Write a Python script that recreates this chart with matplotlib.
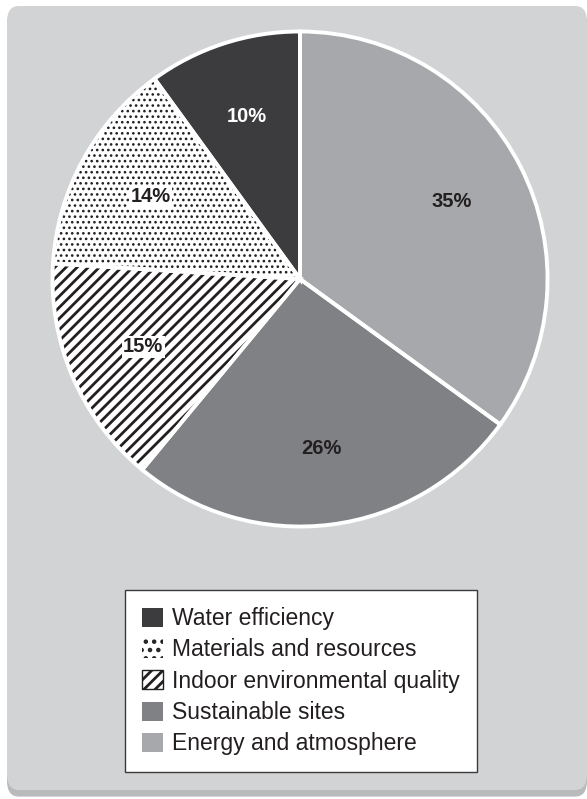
import matplotlib
matplotlib.use('Agg')
import matplotlib.pyplot as plt
from matplotlib.patches import Patch, FancyBboxPatch

plt.rcParams['font.family'] = ['Liberation Sans', 'DejaVu Sans']
plt.rcParams['hatch.linewidth'] = 2.0

# data, clockwise from 12 o'clock
categories = ['Energy and atmosphere', 'Sustainable sites', 'Indoor environmental quality',
              'Materials and resources', 'Water efficiency']
shares = [35, 26, 15, 14, 10]
colors = ['#a7a8ab', '#808185', 'white', 'white', '#3c3c3e']
hatches = [None, None, '///', '...', None]
label_colors = ['#231f20', '#231f20', '#231f20', '#231f20', 'white']
legend_order = [4, 3, 2, 1, 0]

fig = plt.figure(figsize=(5.87, 7.99), dpi=100)

# grey panel with a little shadow at the bottom
shadow = FancyBboxPatch((7 / 587, 0.003), 580 / 587, 788 / 799,
                        boxstyle='round,pad=0,rounding_size=0.02',
                        transform=fig.transFigure, facecolor='#b9babc',
                        edgecolor='none', zorder=-3)
panel = FancyBboxPatch((7 / 587, 9 / 799), 580 / 587, 784 / 799,
                       boxstyle='round,pad=0,rounding_size=0.02',
                       transform=fig.transFigure, facecolor='#d2d3d5',
                       edgecolor='none', zorder=-2)
fig.patches.extend([shadow, panel])

ax = fig.add_axes([50 / 587, 270 / 799, 500 / 587, 500 / 799])

# first pass: fills and hatches (hatch colour follows edgecolor)
wedges, texts, autotexts = ax.pie(
    shares, colors=colors, startangle=90, counterclock=False,
    autopct='%d%%', pctdistance=0.69,
    wedgeprops=dict(edgecolor='#231f20', linewidth=0),
    textprops=dict(fontsize=14.5, fontweight='bold'))
for w, h in zip(wedges, hatches):
    if h:
        w.set_hatch(h)
        if h.startswith('.') and hasattr(w, 'set_hatch_linewidth'):
            w.set_hatch_linewidth(1.1)
for t, c, h in zip(autotexts, label_colors, hatches):
    t.set_color(c)
    if h:
        t.set_bbox(dict(facecolor='white', edgecolor='none', pad=1.0))

# second pass: white separators and outline
ax.pie(shares, colors=['none'] * len(shares), startangle=90, counterclock=False,
       wedgeprops=dict(edgecolor='white', linewidth=2.8))
ax.set_xlim(-1.01, 1.01)
ax.set_ylim(-1.01, 1.01)
ax.axis('off')

handles = []
for i in legend_order:
    if hatches[i] == '///':
        handles.append(Patch(facecolor='white', edgecolor='#231f20', hatch='///',
                             linewidth=1.0, label=categories[i]))
    elif hatches[i]:
        p = Patch(facecolor='white', edgecolor='#231f20', hatch='..',
                  linewidth=0, label=categories[i])
        if hasattr(p, 'set_hatch_linewidth'):
            p.set_hatch_linewidth(0.4)
        handles.append(p)
    else:
        handles.append(Patch(facecolor=colors[i], edgecolor='none', label=categories[i]))

leg = fig.legend(handles=handles, loc='upper left',
                 bbox_to_anchor=(125 / 587, 1 - 590 / 799),
                 borderaxespad=0, frameon=True, fancybox=False, framealpha=1,
                 prop=dict(size=16.5), handlelength=0.9, handleheight=0.9,
                 handletextpad=0.4, labelspacing=0.36, borderpad=0.75)
leg.get_frame().set_facecolor('white')
leg.get_frame().set_edgecolor('#3a3a3a')
leg.get_frame().set_linewidth(1.0)
for t in leg.get_texts():
    t.set_color('#231f20')

fig.savefig('out.png', dpi=100, facecolor='white')
